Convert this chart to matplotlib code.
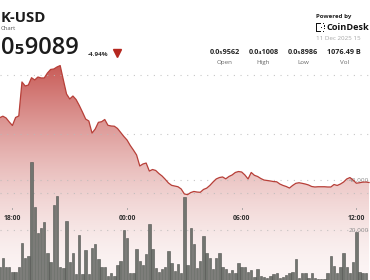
import numpy as np
import pandas as pd
import matplotlib
matplotlib.use("Agg")
import matplotlib.pyplot as plt
import matplotlib.dates as mdates
from matplotlib.lines import Line2D
from matplotlib.patches import Rectangle

plt.rcParams['font.family'] = ['Open Sans', 'DejaVu Sans']

W, H = 370, 280

# ---------------- data ----------------
pair = "K-USD"
subtitle = "Chart"
last_price = "0\u20859089"
change = "-4.94%"
stats_values = ["0.0\u20859562", "0.0\u20841008", "0.0\u20858986", "1076.49 B"]
stats_labels = ["Open", "High", "Low", "Vol"]
powered = "Powered by"
brand = "CoinDesk"
stamp = "11 Dec 2025 15"

# price in millionths of USD, 10-minute steps from 17:20
price_e6 = [
    9.638, 9.651, 9.636, 9.602, 9.572, 9.640, 9.653, 9.941, 9.907, 9.915,
    9.977, 9.958, 9.983, 9.975, 9.975, 10.017, 10.047, 10.051, 10.068, 10.080,
    9.958, 9.839, 9.797, 9.822, 9.792, 9.742, 9.686, 9.627, 9.610, 9.508,
    9.542, 9.599, 9.604, 9.623, 9.574, 9.568, 9.566, 9.547, 9.513, 9.479,
    9.449, 9.403, 9.364, 9.322, 9.229, 9.246, 9.254, 9.186, 9.199, 9.191,
    9.165, 9.144, 9.116, 9.085, 9.065, 9.059, 9.053, 9.034, 8.992, 8.986,
    9.004, 9.013, 9.008, 9.006, 9.030, 9.041, 9.064, 9.093, 9.119, 9.131,
    9.136, 9.120, 9.140, 9.153, 9.174, 9.182, 9.178, 9.153, 9.119, 9.174,
    9.150, 9.140, 9.123, 9.110, 9.106, 9.102, 9.097, 9.095, 9.076, 9.064,
    9.055, 9.042, 9.064, 9.082, 9.087, 9.082, 9.076, 9.068, 9.055, 9.051,
    9.053, 9.053, 9.053, 9.051, 9.051, 9.072, 9.064, 9.076, 9.093, 9.119,
    9.131, 9.110, 9.083, 9.087, 9.092, 9.093, 9.089,
]

volume = [
    5200, 8800, 5200, 5200, 3200, 3200, 5200, 14800, 8800, 9600,
    47200, 29200, 18800, 20800, 23200, 10800, 7200, 30000, 33600, 5200,
    4800, 23600, 7200, 10800, 2400, 18000, 2400, 12000, 2400, 12800,
    14400, 8400, 5200, 5200, 1600, 2800, 1600, 6000, 7600, 20000,
    16800, 2800, 2800, 12400, 7600, 6000, 10400, 22400, 12400, 4800,
    3200, 4400, 5200, 11600, 6800, 3600, 6400, 2800, 33200, 6000,
    20800, 14400, 4800, 7600, 17600, 10800, 8800, 4400, 8800, 10800,
    5200, 4400, 2800, 4000, 2800, 6800, 5200, 5200, 3200, 4000,
    1200, 4400, 1600, 1200, 800, 1600, 2400, 2800, 800, 1200,
    2000, 2800, 3200, 8400, 800, 2800, 2800, 800, 2800, 800,
    400, 400, 400, 2800, 9600, 5600, 2800, 5200, 10800, 5200,
    2800, 7200, 19200, 3200, 2800, 2800,
]

price_grid = [10.0, 9.5, 9.0]
volume_grid = [20000, 40000]
volume_grid_labels = ["20,000", "40,000"]
time_ticks = ["2025-12-10 18:00", "2025-12-11 00:00", "2025-12-11 06:00", "2025-12-11 12:00"]
time_tick_labels = ["18:00", "00:00", "06:00", "12:00"]

start = pd.Timestamp("2025-12-10 17:20")
price_times = pd.date_range(start, periods=len(price_e6), freq="10min")
vol_times = pd.date_range(start, periods=len(volume), freq="10min")

# ---------------- figure ----------------
fig = plt.figure(figsize=(W / 100, H / 100), dpi=100)
fig.patch.set_facecolor("white")

x0 = mdates.date2num(pd.Timestamp("2025-12-10 17:21"))
x1 = mdates.date2num(pd.Timestamp("2025-12-11 12:43"))
ylo, yhi = 8.2627, 10.6356

ax = fig.add_axes([0, 0, 1, 1])
ax.set_xlim(x0, x1)
ax.set_ylim(ylo, yhi)
ax.axis("off")

# gradient area under the price line
poly = ax.fill_between(price_times, price_e6, ylo, facecolor="none", edgecolor="none")
rows = 280
py = np.linspace(0, H, rows)
a = 0.78 * np.clip((H - py) / 216.0, 0, 1.2) ** 1.6 + 0.05
a = np.clip(a, 0, 0.85)
red = np.array([0.74, 0.22, 0.20])
img = (1 - a)[:, None] * np.ones(3)[None, :] + a[:, None] * red[None, :]
img = img[:, None, :]
im = ax.imshow(img, extent=[x0, x1, ylo, yhi], aspect="auto", origin="upper",
               zorder=1, interpolation="bilinear")
im.set_clip_path(poly.get_paths()[0], transform=ax.transData)
ax.set_xlim(x0, x1)
ax.set_ylim(ylo, yhi)

for g in price_grid:
    ax.axhline(g, color="#b9b9b9", lw=0.8, ls=(0, (1, 5)), zorder=2, alpha=0.8)

# volume bars
axv = fig.add_axes([0, 0, 1, 1], sharex=ax)
axv.patch.set_visible(False)
axv.set_ylim(0, 112000)
axv.axis("off")
for g in volume_grid:
    axv.axhline(g, color="#b9b9b9", lw=0.8, ls=(0, (1, 5)), zorder=0, alpha=0.8)
axv.bar(vol_times, volume, width=7.5 / 1440, color="#727570",
        edgecolor="#50524f", linewidth=0.4, zorder=2)
for g, lab in zip(volume_grid, volume_grid_labels):
    axv.text(369.5 / W, g, lab, transform=axv.get_yaxis_transform(),
             ha="right", va="center", fontsize=4.6, color="#8a8a8a", zorder=5)

# price line on top
axl = fig.add_axes([0, 0, 1, 1], sharex=ax, sharey=ax)
axl.patch.set_visible(False)
axl.axis("off")
axl.plot(price_times, price_e6, color="#b73f38", lw=0.9, solid_joinstyle="round")
axl.set_xlim(x0, x1)
axl.set_ylim(ylo, yhi)

# time ticks
for t, lab in zip(time_ticks, time_tick_labels):
    xt = mdates.date2num(pd.Timestamp(t))
    axl.text(xt, 1 - 219 / H, lab, transform=axl.get_xaxis_transform(),
             ha="center", va="center", fontsize=4.9, fontweight="bold", color="#2e2e2e")
    axl.plot([xt, xt], [1 - 207.5 / H, 1 - 209 / H], transform=axl.get_xaxis_transform(),
             color="#9a9a9a", lw=0.6)


def fx(x):
    return x / W


def fy(y):
    return 1 - y / H


# ---------------- header ----------------
fig.text(fx(0.5), fy(18), pair, fontsize=10.7, fontweight="bold", color="#1c1c1c",
         ha="left", va="center")
fig.text(fx(0.5), fy(28.5), subtitle, fontsize=4.3, color="#555555", ha="left", va="center")
fig.text(fx(0.5), fy(48), last_price, fontsize=17.0, fontweight="semibold", color="#1c1c1c",
         ha="left", va="center")
fig.text(fx(88), fy(54.5), change, fontsize=4.6, fontweight="bold", color="#333333",
         ha="left", va="center")
fig.add_artist(Line2D([fx(117)], [fy(53)], marker="v", markersize=5.2, color="#b5271f",
                      transform=fig.transFigure, linestyle="none"))

bx = 316
fig.text(fx(bx), fy(16.5), powered, fontsize=4.4, fontweight="bold", color="#222222",
         ha="left", va="center")
# logo mark
for (rx, ry, rw, rh) in [(0, 22.5, 1.4, 9.5), (0, 22.5, 4.5, 1.4), (0, 30.6, 4.5, 1.4),
                         (6.5, 22.5, 1.6, 1.4), (6.5, 30.6, 1.6, 1.4),
                         (8, 25.3, 1.4, 1.4), (8, 28, 1.4, 1.4), (4.5, 26.6, 1.4, 1.4)]:
    fig.add_artist(Rectangle((fx(bx + rx), fy(ry + rh)), rw / W, rh / H,
                             transform=fig.transFigure, facecolor="#111111", edgecolor="none"))
fig.text(fx(bx + 10.5), fy(27.5), brand, fontsize=6.6, fontweight="bold", color="#111111",
         ha="left", va="center")
fig.text(fx(bx), fy(38.5), stamp, fontsize=4.5, color="#a8a8a8", ha="left", va="center")

for xc, val, lab in zip([225, 263.5, 303, 344], stats_values, stats_labels):
    fig.text(fx(xc), fy(52.5), val, fontsize=5.2, fontweight="bold", color="#222222",
             ha="center", va="center")
    fig.text(fx(xc), fy(62.5), lab, fontsize=4.5, color="#6a6a6a", ha="center", va="center")

fig.savefig("out.png", dpi=100, facecolor="white")
